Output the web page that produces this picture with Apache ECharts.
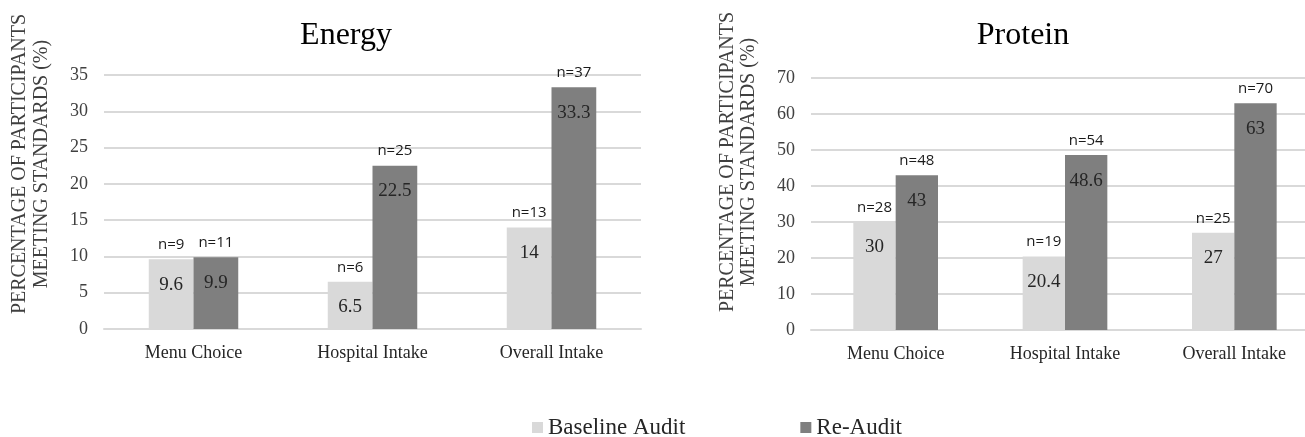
<!DOCTYPE html>
<html>
<head>
<meta charset="utf-8">
<script src="https://cdn.jsdelivr.net/npm/echarts@6/dist/echarts.min.js"></script>
<style>
html,body{margin:0;padding:0;background:#fff;overflow:hidden;width:1305px;height:437px;}
#chart{width:1330px;height:437px;}
</style>
</head>
<body>
<div id="chart"></div>
<script>
const categories = ['Menu Choice', 'Hospital Intake', 'Overall Intake'];
const seriesNames = ['Baseline Audit', 'Re-Audit'];
const energyBaseline = [9.6, 6.5, 14];
const energyReaudit = [9.9, 22.5, 33.3];
const energyBaselineN = [9, 6, 13];
const energyReauditN = [11, 25, 37];
const proteinBaseline = [30, 20.4, 27];
const proteinReaudit = [43, 48.6, 63];
const proteinBaselineN = [28, 19, 25];
const proteinReauditN = [48, 54, 70];
const chartTitles = ['Energy', 'Protein'];
const yAxisTitle = 'PERCENTAGE OF PARTICIPANTS\nMEETING STANDARDS (%)';
const energyAxis = {min: 0, max: 35, interval: 5};
const proteinAxis = {min: 0, max: 70, interval: 10};

const SERIF = '"Liberation Serif", "Times New Roman", serif';
const SANS = '"Open Sans", "Noto Sans", sans-serif';
const colBase = '#d9d9d9';
const colRe = '#7f7f7f';

function xAx(gi) {
  return {
    type: 'category', gridIndex: gi, data: categories,
    axisLine: {show: true, lineStyle: {color: '#d9d9d9', width: 2}},
    axisTick: {show: false},
    axisLabel: {fontFamily: SERIF, fontSize: 18, color: '#262626', margin: 15}
  };
}
function yAx(gi, ax) {
  return {
    type: 'value', gridIndex: gi, min: ax.min, max: ax.max, interval: ax.interval,
    axisLine: {show: false}, axisTick: {show: false},
    splitLine: {lineStyle: {color: '#d9d9d9', width: 2}},
    axisLabel: {fontFamily: SERIF, fontSize: 18, color: '#404040', margin: 16}
  };
}
function valSeries(name, gi, stack, data, color) {
  return {
    name: name, type: 'bar', xAxisIndex: gi, yAxisIndex: gi, stack: stack + gi,
    data: data, barWidth: '25%', barGap: '0%',
    itemStyle: {color: color},
    label: {show: true, position: 'insideTop', distance: 16, fontFamily: SERIF, fontSize: 19, color: '#262626'}
  };
}
function nSeries(name, gi, stack, nvals) {
  return {
    name: name, type: 'bar', xAxisIndex: gi, yAxisIndex: gi, stack: stack + gi,
    data: nvals.map(() => 0), barWidth: '25%', barGap: '0%',
    itemStyle: {color: 'rgba(0,0,0,0)'},
    label: {show: true, position: 'top', distance: 7, fontFamily: SANS, fontSize: 15, color: '#1a1a1a',
      formatter: p => 'n=' + nvals[p.dataIndex]}
  };
}

const chart = echarts.init(document.getElementById('chart'), null, {renderer: 'canvas'});
chart.setOption({
  animation: false,
  backgroundColor: '#fff',
  title: [
    {text: chartTitles[0], left: 341, top: 15, textAlign: 'center', textStyle: {fontFamily: SERIF, fontSize: 32, fontWeight: 'normal', color: '#000'}},
    {text: chartTitles[1], left: 1018, top: 15, textAlign: 'center', textStyle: {fontFamily: SERIF, fontSize: 32, fontWeight: 'normal', color: '#000'}}
  ],
  legend: {
    data: seriesNames, left: 532, top: 416, padding: 0, itemWidth: 11, itemHeight: 11, itemGap: 115,
    icon: 'rect',
    textStyle: {fontFamily: SERIF, fontSize: 23, color: '#262626'}
  },
  grid: [
    {left: 104, top: 75, width: 537, height: 254},
    {left: 811, top: 78, width: 508, height: 252}
  ],
  xAxis: [xAx(0), xAx(1)],
  yAxis: [yAx(0, energyAxis), yAx(1, proteinAxis)],
  graphic: [
    {type: 'text', x: 31, y: 164, rotation: Math.PI / 2,
     style: {text: yAxisTitle, font: '20px ' + SERIF, lineHeight: 22, fill: '#404040',
       align: 'center', verticalAlign: 'middle', textAlign: 'center', textVerticalAlign: 'middle'}},
    {type: 'text', x: 738, y: 162, rotation: Math.PI / 2,
     style: {text: yAxisTitle, font: '20px ' + SERIF, lineHeight: 21, fill: '#404040',
       align: 'center', verticalAlign: 'middle', textAlign: 'center', textVerticalAlign: 'middle'}}
  ],
  series: [
    valSeries(seriesNames[0], 0, 'b', energyBaseline, colBase),
    valSeries(seriesNames[1], 0, 'r', energyReaudit, colRe),
    nSeries('nb0', 0, 'b', energyBaselineN),
    nSeries('nr0', 0, 'r', energyReauditN),
    valSeries(seriesNames[0], 1, 'b', proteinBaseline, colBase),
    valSeries(seriesNames[1], 1, 'r', proteinReaudit, colRe),
    nSeries('nb1', 1, 'b', proteinBaselineN),
    nSeries('nr1', 1, 'r', proteinReauditN)
  ]
});
</script>
</body>
</html>
